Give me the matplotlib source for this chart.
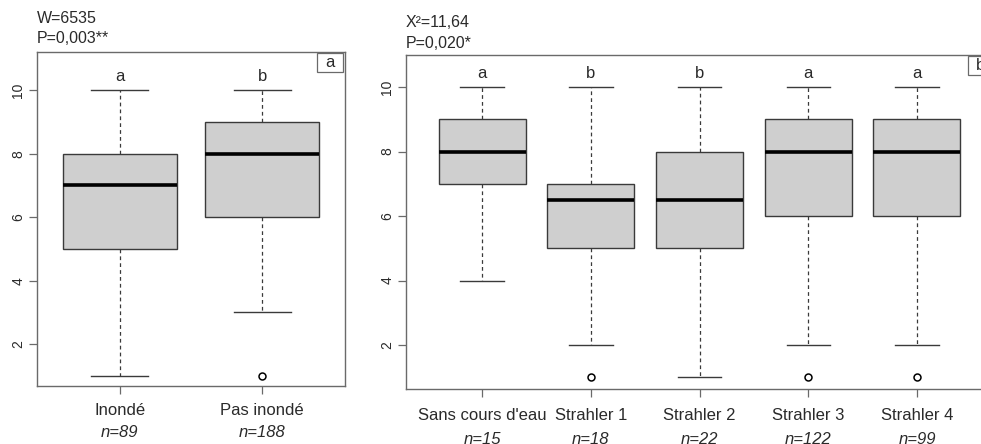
import numpy as np
import matplotlib.pyplot as plt
from matplotlib.patches import Rectangle

plt.rcParams['font.family'] = ['Liberation Sans', 'DejaVu Sans']

# Panel a : inondation
cat_a = ["Inondé", "Pas inondé"]
n_a = [89, 188]
wlo_a = [1, 3]
q1_a = [5, 6]
med_a = [7, 8]
q3_a = [8, 9]
whi_a = [10, 10]
out_a = [[], [1]]
let_a = ["a", "b"]

# Panel b : ordre de Strahler
cat_b = ["Sans cours d'eau", "Strahler 1", "Strahler 2", "Strahler 3", "Strahler 4"]
n_b = [15, 18, 22, 122, 99]
wlo_b = [4, 2, 1, 2, 2]
q1_b = [7, 5, 5, 6, 6]
med_b = [8, 6.5, 6.5, 8, 8]
q3_b = [9, 7, 8, 9, 9]
whi_b = [10, 10, 10, 10, 10]
out_b = [[], [1], [], [1], [1]]
let_b = ["a", "b", "b", "a", "a"]

edge = '#3a3a3a'
frame = '#6a6a6a'
txt = '#2a2a2a'


def draw(ax, cats, ns, wlo, q1, med, q3, whi, outs, lets, ylim, corner, cbox, pad, ny):
    stats = []
    for i in range(len(cats)):
        stats.append({'whislo': wlo[i], 'q1': q1[i], 'med': med[i], 'q3': q3[i],
                      'whishi': whi[i], 'fliers': outs[i]})
    pos = np.arange(1, len(cats) + 1)
    ax.bxp(stats, positions=pos, widths=0.8, patch_artist=True, showfliers=True,
           boxprops=dict(facecolor='#cfcfcf', edgecolor=edge, linewidth=1.0),
           medianprops=dict(color='black', linewidth=2.6),
           whiskerprops=dict(color=edge, linewidth=0.9, linestyle=(0, (3, 2.5))),
           capprops=dict(color=edge, linewidth=1.0),
           capwidths=0.4,
           flierprops=dict(marker='o', markersize=5, markerfacecolor='none',
                           markeredgecolor='black', markeredgewidth=1.1))
    ax.set_xlim(0.5 - 0.04 * len(cats), len(cats) + 0.5 + 0.04 * len(cats))
    ax.set_ylim(*ylim)
    ax.set_yticks([2, 4, 6, 8, 10])
    ax.set_yticklabels(['2', '4', '6', '8', '10'], rotation=90, va='center',
                       fontsize=10, color=txt)
    ax.set_xticks(pos)
    ax.set_xticklabels(cats, fontsize=12, color=txt)
    ax.tick_params(axis='both', direction='out', length=6, color=frame, width=0.9)
    ax.tick_params(axis='x', pad=pad)
    ax.tick_params(axis='y', pad=2.5)
    for s in ax.spines.values():
        s.set_color(frame)
        s.set_linewidth(1.0)
    for p, n in zip(pos, ns):
        ax.text(p, ny, 'n=%d' % n, transform=ax.get_xaxis_transform(),
                ha='center', va='center', fontsize=12, style='italic', color=txt)
    for p, l in zip(pos, lets):
        ax.text(p, 10.2, l, ha='center', va='bottom', fontsize=12, color=txt)
    # petite boite de legende dans le coin
    x0, y0, w, h = cbox
    ax.add_patch(Rectangle((x0, y0), w, h, transform=ax.transAxes, facecolor='white',
                           edgecolor=frame, linewidth=0.9, zorder=5, clip_on=False))
    ax.text(x0 + w / 2, y0 + h / 2, corner, transform=ax.transAxes, ha='center',
            va='center', fontsize=12, color=txt, zorder=6)


fig = plt.figure(figsize=(9.81, 4.44), dpi=100)
ax1 = fig.add_axes([0.0377, 0.1306, 0.314, 0.7523])
ax2 = fig.add_axes([0.4139, 0.1239, 0.5984, 0.752])

draw(ax1, cat_a, n_a, wlo_a, q1_a, med_a, q3_a, whi_a, out_a, let_a,
     (0.685, 11.2), 'a', (0.909, 0.94, 0.085, 0.057), 6, -0.14)
draw(ax2, cat_b, n_b, wlo_b, q1_b, med_b, q3_b, whi_b, out_b, let_b,
     (0.636, 10.99), 'b', (0.957, 0.94, 0.044, 0.057), 8, -0.152)

fig.text(0.0377, 0.959, 'W=6535', ha='left', va='center', fontsize=11.5, color=txt)
fig.text(0.0377, 0.914, 'P=0,003**', ha='left', va='center', fontsize=11.5, color=txt)
fig.text(0.4139, 0.95, 'X²=11,64', ha='left', va='center', fontsize=11.5, color=txt)
fig.text(0.4139, 0.903, 'P=0,020*', ha='left', va='center', fontsize=11.5, color=txt)

fig.savefig('out.png', dpi=100)
